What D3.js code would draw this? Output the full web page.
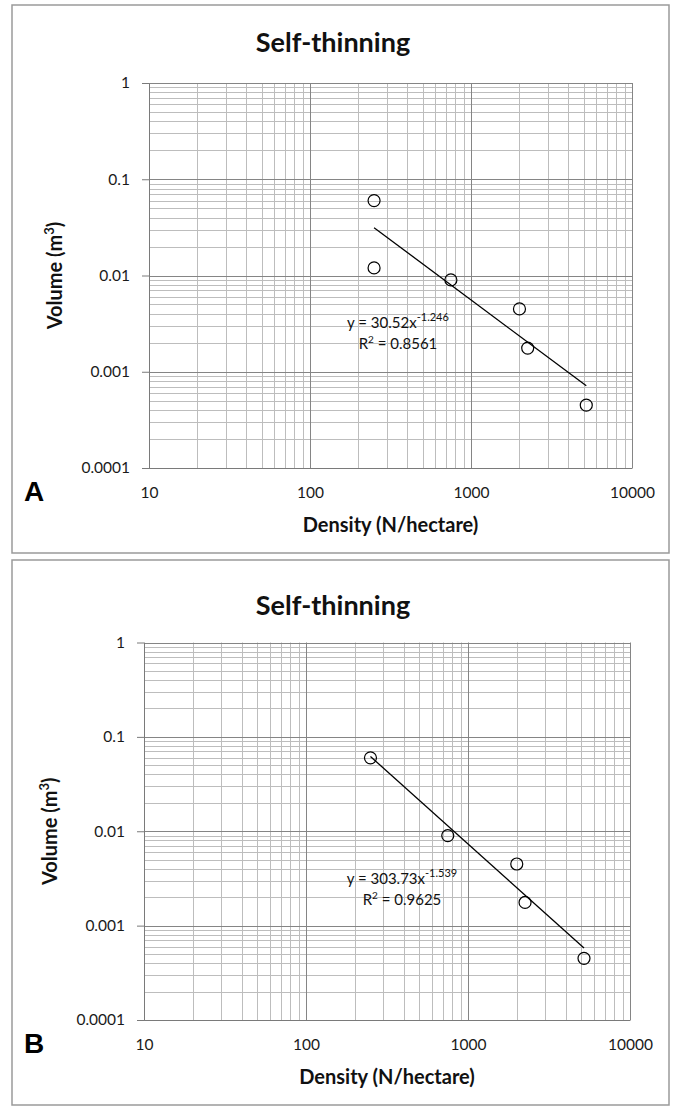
<!DOCTYPE html>
<html lang="en">
<head>
    <meta charset="UTF-8">
    <title>Self-thinning</title>
    <script src="https://d3js.org/d3.v7.min.js"></script>
    <style>
        body { margin: 0; background: #fff; }
        text { font-family: Lato, "Open Sans", sans-serif; fill: #111; }
        .minor { stroke: #bdbdbd; stroke-width: 1; }
        .major { stroke: #858585; stroke-width: 1; }
    </style>
</head>
<body>

<script>
    // data
    let densityA = [250, 250, 750, 2000, 2250, 5200];
    let volumeA = [0.06, 0.012, 0.009, 0.0045, 0.00176, 0.00045];
    let densityB = [250, 750, 2000, 2250, 5200];
    let volumeB = [0.06, 0.009, 0.0045, 0.00176, 0.00045];

    // trend line y = a * x^b from the chart labels
    let fitA = {a: 30.52, b: -1.246, r2: 0.8561};
    let fitB = {a: 303.73, b: -1.539, r2: 0.9625};

    let xTicks = [10, 100, 1000, 10000];
    let yTicks = [0.0001, 0.001, 0.01, 0.1, 1];

    let svg = d3.select("body").append("svg")
        .attr("width", 677)
        .attr("height", 1110);

    function drawPanel(p, xs, ys, fit) {
        let g = svg.append("g");

        g.append("rect")
            .attr("x", p.box[0]).attr("y", p.box[1])
            .attr("width", p.box[2]).attr("height", p.box[3])
            .style("fill", "#fff")
            .style("stroke", "#9a9a9a")
            .style("stroke-width", 1.5);

        let x = d3.scaleLog().domain([10, 10000]).range([p.left, p.right]);
        let y = d3.scaleLog().domain([0.0001, 1]).range([p.bottom, p.top]);

        // gridlines, minor first then decades
        let isMajor = d => Math.abs(Math.log10(d) - Math.round(Math.log10(d))) < 1e-9;
        let xg = x.ticks(), yg = y.ticks();
        g.selectAll(".vx").data(xg.filter(d => !isMajor(d))).enter().append("line")
            .attr("class", "minor")
            .attr("x1", d => Math.round(x(d)) + 0.5).attr("x2", d => Math.round(x(d)) + 0.5)
            .attr("y1", p.top).attr("y2", p.bottom);
        g.selectAll(".hy").data(yg.filter(d => !isMajor(d))).enter().append("line")
            .attr("class", "minor")
            .attr("y1", d => Math.round(y(d)) + 0.5).attr("y2", d => Math.round(y(d)) + 0.5)
            .attr("x1", p.left).attr("x2", p.right);
        g.selectAll(".vX").data(xg.filter(isMajor)).enter().append("line")
            .attr("class", "major")
            .attr("x1", d => Math.round(x(d)) + 0.5).attr("x2", d => Math.round(x(d)) + 0.5)
            .attr("y1", p.top).attr("y2", p.bottom);
        g.selectAll(".hY").data(yg.filter(isMajor)).enter().append("line")
            .attr("class", "major")
            .attr("y1", d => Math.round(y(d)) + 0.5).attr("y2", d => Math.round(y(d)) + 0.5)
            .attr("x1", p.left).attr("x2", p.right);

        // axes
        let ya = g.append("g")
            .attr("transform", `translate(${p.left},0)`)
            .call(d3.axisLeft(y).tickValues(yTicks).tickFormat(d => String(d))
                .tickSize(7).tickSizeOuter(0).tickPadding(12));
        let xa = g.append("g")
            .attr("transform", `translate(0,${p.bottom})`)
            .call(d3.axisBottom(x).tickValues(xTicks).tickFormat(d => String(d))
                .tickSize(0).tickSizeOuter(0).tickPadding(19));
        [ya, xa].forEach(a => {
            a.select(".domain").style("stroke", "#7a7a7a");
            a.selectAll(".tick line").style("stroke", "#7a7a7a");
            a.selectAll("text")
                .style("font-family", "Lato, sans-serif")
                .style("font-size", "15.5px")
                .style("fill", "#1a1a1a");
        });

        // trend line
        let xMin = d3.min(xs), xMax = d3.max(xs);
        let trend = [xMin, xMax].map(v => [v, fit.a * Math.pow(v, fit.b)]);
        g.append("path")
            .attr("d", d3.line().x(d => x(d[0])).y(d => y(d[1]))(trend))
            .style("stroke", "#000")
            .style("stroke-width", 1.3)
            .style("fill", "none");

        // points
        g.selectAll("circle").data(xs.map((v, i) => [v, ys[i]])).enter().append("circle")
            .attr("cx", d => x(d[0]))
            .attr("cy", d => y(d[1]))
            .attr("r", 6)
            .style("fill", "none")
            .style("stroke", "#000")
            .style("stroke-width", 1.2);

        // equation
        let eq = g.append("text")
            .attr("x", p.eq[0]).attr("y", p.eq[1])
            .attr("text-anchor", "middle")
            .style("font-size", "15px");
        eq.append("tspan").text("y = " + fit.a + "x");
        eq.append("tspan").attr("dy", -7).style("font-size", "11px").text(String(fit.b));
        let r2 = g.append("text")
            .attr("x", p.eq[0]).attr("y", p.eq[1] + 21)
            .attr("text-anchor", "middle")
            .style("font-size", "15px");
        r2.append("tspan").text("R");
        r2.append("tspan").attr("dy", -6).style("font-size", "10px").text("2");
        r2.append("tspan").attr("dy", 6).text(" = " + fit.r2);

        // titles
        g.append("text")
            .attr("x", 333).attr("y", p.title)
            .attr("text-anchor", "middle")
            .style("font-size", "27px").style("font-weight", "bold")
            .text("Self-thinning");
        g.append("text")
            .attr("x", (p.left + p.right) / 2).attr("y", p.bottom + 64)
            .attr("text-anchor", "middle")
            .style("font-size", "20px").style("font-weight", "bold")
            .text("Density (N/hectare)");
        let yt = g.append("text")
            .attr("transform", `translate(${p.left - 87},${(p.top + p.bottom) / 2}) rotate(-90)`)
            .attr("text-anchor", "middle")
            .style("font-size", "20px").style("font-weight", "bold");
        yt.append("tspan").text("Volume (m");
        yt.append("tspan").attr("dy", -8).style("font-size", "13px").text("3");
        yt.append("tspan").attr("dy", 8).text(")");

        g.append("text")
            .attr("x", 24).attr("y", p.bottom + 33)
            .style("font-family", "'Liberation Sans', Arial, sans-serif")
            .style("font-size", "28px").style("font-weight", "bold")
            .style("fill", "#000")
            .text(p.letter);
    }

    drawPanel({box: [12, 5, 657, 548], left: 149, right: 632, top: 83, bottom: 468,
        title: 52, eq: [398, 328], letter: "A"}, densityA, volumeA, fitA);
    drawPanel({box: [12, 560, 657, 545], left: 144, right: 630, top: 642.5, bottom: 1020,
        title: 615, eq: [402, 884], letter: "B"}, densityB, volumeB, fitB);
</script>

</body>
</html>
